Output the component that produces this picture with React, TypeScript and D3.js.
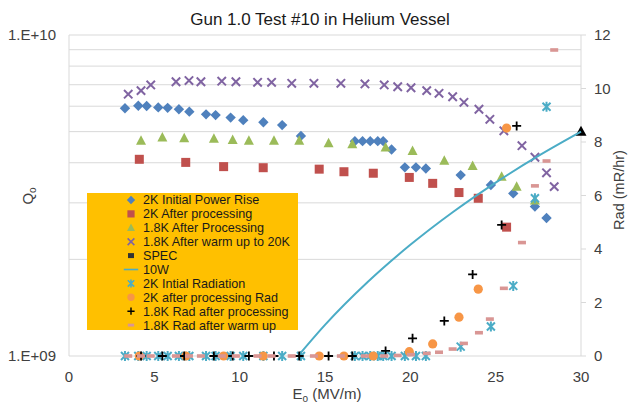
import React from "react";
import * as d3 from "d3";

// ---------- data ----------
const title = "Gun 1.0 Test #10 in Helium Vessel";
const xTicks = [0, 5, 10, 15, 20, 25, 30];
const qTickLabels = ["1.E+09", "1.E+10"];
const radTicks = [0, 2, 4, 6, 8, 10, 12];

// 2K Initial Power Rise (Q) & 2K Initial Radiation (Rad)
const e2kInit = [3.28, 4.06, 4.55, 5.23, 5.78, 6.44, 7.05, 8.03, 8.59, 9.47, 10.21, 11.39, 12.49, 13.59, 16.75, 17.2, 17.65, 18.09, 18.41, 18.9, 19.68, 20.33, 20.91, 22.95, 24.72, 26.03, 27.3, 27.98];
const q2kInit = [5.91e9, 6.02e9, 6.01e9, 5.95e9, 5.93e9, 5.87e9, 5.77e9, 5.66e9, 5.63e9, 5.53e9, 5.43e9, 5.35e9, 5.24e9, 4.85e9, 4.67e9, 4.67e9, 4.67e9, 4.67e9, 4.67e9, 4.4e9, 3.87e9, 3.87e9, 3.84e9, 3.66e9, 3.41e9, 3.21e9, 2.92e9, 2.69e9];
const rad2kInit = [0, 0, 0, 0, 0, 0, 0, 0, 0, 0, 0, 0, 0, 0, 0, 0, 0, 0, 0, 0, 0, 0, 0, 0.35, 1.1, 2.62, 5.9, 9.32];

// 2K After processing (Q) & 2K after processing Rad
const e2kProc = [4.12, 6.84, 9.06, 11.38, 14.66, 16.11, 17.83, 19.94, 21.31, 22.85, 23.98, 25.64];
const q2kProc = [4.1e9, 4.01e9, 3.89e9, 3.86e9, 3.82e9, 3.75e9, 3.71e9, 3.6e9, 3.45e9, 3.23e9, 3.1e9, 2.52e9];
const rad2kProc = [0, 0, 0, 0, 0, 0, 0, 0.16, 0.45, 1.45, 2.5, 8.52];

// 1.8K After Processing (Q) & 1.8K Rad after processing
const e18Proc = [4.22, 5.47, 6.75, 8.49, 9.59, 10.54, 12.01, 13.49, 15.21, 16.6, 18.55, 20.13, 21.99, 23.65, 25.35, 26.23, 27.3];
const q18Proc = [4.68e9, 4.79e9, 4.77e9, 4.75e9, 4.71e9, 4.68e9, 4.68e9, 4.68e9, 4.6e9, 4.57e9, 4.46e9, 4.35e9, 4.06e9, 3.91e9, 3.62e9, 3.37e9, 3.05e9];
const rad18Proc = [0, 0, 0, 0, 0, 0, 0, 0, 0, 0, 0.19, 0.66, 1.31, 3.05, 4.9, 8.6, null];

// 1.8K After warm up to 20K (Q) & 1.8K Rad after warm up
const e18Warm = [3.47, 4.22, 4.79, 6.27, 7.03, 7.73, 8.95, 9.78, 11.05, 11.87, 13.05, 14.35, 15.93, 17.34, 18.47, 19.26, 20.04, 20.96, 21.68, 22.48, 23.14, 24.02, 24.66, 25.48, 26.54, 27.3, 27.98, 28.43];
const q18Warm = [6.54e9, 6.71e9, 6.99e9, 7.15e9, 7.21e9, 7.15e9, 7.18e9, 7.15e9, 7.12e9, 7.12e9, 7.07e9, 7.07e9, 7.07e9, 7.04e9, 6.99e9, 6.9e9, 6.85e9, 6.71e9, 6.58e9, 6.42e9, 6.17e9, 5.87e9, 5.46e9, 5.03e9, 4.52e9, 4.16e9, 3.72e9, 3.37e9];
const rad18Warm = [0, 0, 0, 0, 0, 0, 0, 0, 0, 0, 0, 0, 0, 0, 0, 0.02, 0.05, 0.1, 0.14, 0.26, 0.47, 0.87, 1.38, 2.53, 4.24, 6.36, 7.29, 11.44];

// SPEC
const eSpec = [30];
const qSpec = [5.0e9];

// 10W
const e10W = [13.42, 15, 17.5, 20, 22.5, 25, 27.5, 30];
const q10W = [1.0e9, 1.25e9, 1.7e9, 2.22e9, 2.81e9, 3.47e9, 4.2e9, 5.0e9];

const legendLabels = [
  "2K Initial Power Rise",
  "2K After processing",
  "1.8K After Processing",
  "1.8K After warm up to 20K",
  "SPEC",
  "10W",
  "2K Intial Radiation",
  "2K after processing Rad",
  "1.8K Rad after processing",
  "1.8K Rad after warm up",
];

// ---------- style ----------
const C = {
  blue: "#4F81BD",
  red: "#C0504D",
  green: "#9BBB59",
  purple: "#8064A2",
  teal: "#4BACC6",
  orange: "#F79646",
  black: "#000000",
  pink: "#D99694",
  grid: "#D9D9D9",
  legend: "#FFC000",
};
const FONT = "'Liberation Sans', Arial, sans-serif";

type Kind = "diamond" | "square" | "triangle" | "x" | "spec" | "line" | "star" | "circle" | "plus" | "dash";

function Marker({ kind, x, y, color }: { kind: Kind; x: number; y: number; color: string }) {
  switch (kind) {
    case "diamond":
      return <path d={`M${x},${y - 5.2}L${x + 5.2},${y}L${x},${y + 5.2}L${x - 5.2},${y}Z`} fill={color} />;
    case "square":
      return <rect x={x - 4.5} y={y - 4.5} width={9} height={9} fill={color} />;
    case "triangle":
      return <path d={`M${x},${y - 5.5}L${x + 5},${y + 4}L${x - 5},${y + 4}Z`} fill={color} />;
    case "spec":
      return <path d={`M${x},${y - 6}L${x + 5.5},${y + 4}L${x - 5.5},${y + 4}Z`} fill={color} />;
    case "x":
      return (
        <path d={`M${x - 4.2},${y - 4.2}L${x + 4.2},${y + 4.2}M${x - 4.2},${y + 4.2}L${x + 4.2},${y - 4.2}`} stroke={color} strokeWidth={2} />
      );
    case "star":
      return (
        <path
          d={`M${x - 4},${y - 4}L${x + 4},${y + 4}M${x - 4},${y + 4}L${x + 4},${y - 4}M${x},${y - 5}L${x},${y + 5}`}
          stroke={color}
          strokeWidth={2}
        />
      );
    case "circle":
      return <circle cx={x} cy={y} r={4.6} fill={color} />;
    case "plus":
      return <path d={`M${x - 4.5},${y}L${x + 4.5},${y}M${x},${y - 4.5}L${x},${y + 4.5}`} stroke={color} strokeWidth={1.8} />;
    case "dash":
      return <rect x={x - 4} y={y - 1.8} width={8} height={3.6} fill={color} />;
    case "line":
      return <line x1={x - 9} x2={x + 9} y1={y} y2={y} stroke={color} strokeWidth={2} />;
  }
  return null;
}

export default function App() {
  const W = 630;
  const H = 405;
  const x = d3.scaleLinear().domain([0, 30]).range([69, 581]);
  const yQ = d3.scaleLog().domain([1e9, 1e10]).range([356, 35]);
  const yR = d3.scaleLinear().domain([0, 12]).range([356, 35]);

  const gridQ = d3.range(2, 11).map((m) => m * 1e9);

  const qSeries: { e: number[]; v: number[]; kind: Kind; color: string }[] = [
    { e: e2kInit, v: q2kInit, kind: "diamond", color: C.blue },
    { e: e2kProc, v: q2kProc, kind: "square", color: C.red },
    { e: e18Proc, v: q18Proc, kind: "triangle", color: C.green },
    { e: e18Warm, v: q18Warm, kind: "x", color: C.purple },
  ];
  const radSeries: { e: number[]; v: (number | null)[]; kind: Kind; color: string }[] = [
    { e: e2kInit, v: rad2kInit, kind: "star", color: C.teal },
    { e: e2kProc, v: rad2kProc, kind: "circle", color: C.orange },
    { e: e18Proc, v: rad18Proc, kind: "plus", color: C.black },
    { e: e18Warm, v: rad18Warm, kind: "dash", color: C.pink },
  ];

  const line10W = d3
    .line<number>()
    .x((_, i) => x(e10W[i]))
    .y((d) => yQ(d))
    .curve(d3.curveMonotoneX)(q10W);

  const legendKinds: { kind: Kind; color: string }[] = [
    { kind: "diamond", color: C.blue },
    { kind: "square", color: C.red },
    { kind: "triangle", color: C.green },
    { kind: "x", color: C.purple },
    { kind: "square", color: "#333" },
    { kind: "line", color: C.teal },
    { kind: "star", color: C.teal },
    { kind: "circle", color: C.orange },
    { kind: "plus", color: C.black },
    { kind: "dash", color: C.pink },
  ];

  return (
    <svg width={W} height={H} style={{ position: "absolute", left: 0, top: 0, background: "#fff" }} fontFamily={FONT}>
      <rect x={0} y={0} width={W} height={H} fill="#fff" />
      {/* gridlines */}
      {gridQ.map((g) => (
        <line key={g} x1={x(0)} x2={x(30)} y1={yQ(g)} y2={yQ(g)} stroke={C.grid} strokeWidth={1} />
      ))}
      {/* axes */}
      <line x1={x(0)} x2={x(0)} y1={yQ(1e10)} y2={yQ(1e9)} stroke={C.grid} />
      <line x1={x(0)} x2={x(30)} y1={yQ(1e9)} y2={yQ(1e9)} stroke={C.grid} />
      <line x1={x(30)} x2={x(30)} y1={yR(12)} y2={yR(0)} stroke={C.grid} />
      {radTicks.map((t) => (
        <line key={t} x1={x(30)} x2={x(30) + 5} y1={yR(t)} y2={yR(t)} stroke={C.grid} />
      ))}
      {/* tick labels */}
      {xTicks.map((t) => (
        <text key={t} x={x(t)} y={382} fontSize={15} textAnchor="middle" fill="#404040">
          {t}
        </text>
      ))}
      {qTickLabels.map((t, i) => (
        <text key={t} x={56} y={(i === 0 ? yQ(1e9) : yQ(1e10)) + 5} fontSize={15} textAnchor="end" fill="#404040">
          {t}
        </text>
      ))}
      {radTicks.map((t) => (
        <text key={t} x={594} y={yR(t) + 5} fontSize={15} textAnchor="start" fill="#404040">
          {t}
        </text>
      ))}
      {/* title & axis titles */}
      <text x={320} y={25} fontSize={17} textAnchor="middle" fill="#1a1a1a">
        {title}
      </text>
      <text transform="translate(33,196) rotate(-90)" fontSize={15} textAnchor="middle" fill="#404040">
        Q<tspan fontSize={10} dy={3}>o</tspan>
      </text>
      <text transform="translate(624,190) rotate(-90)" fontSize={14.5} textAnchor="middle" fill="#404040">
        Rad (mR/hr)
      </text>
      <text x={327} y={399} fontSize={15} textAnchor="middle" fill="#404040">
        E<tspan fontSize={10} dy={3}>o</tspan>
        <tspan dy={-3}> (MV/m)</tspan>
      </text>

      {/* Q series */}
      {qSeries.map((s, si) =>
        s.e.map((e, i) => <Marker key={`q${si}-${i}`} kind={s.kind} x={x(e)} y={yQ(s.v[i])} color={s.color} />)
      )}
      {eSpec.map((e, i) => (
        <Marker key={`spec${i}`} kind="spec" x={x(e)} y={yQ(qSpec[i])} color={C.black} />
      ))}
      <path d={line10W ?? ""} fill="none" stroke={C.teal} strokeWidth={2} />

      {/* Rad series */}
      {radSeries.map((s, si) =>
        s.e.map((e, i) =>
          s.v[i] == null ? null : (
            <Marker key={`r${si}-${i}`} kind={s.kind} x={x(e)} y={yR(s.v[i] as number)} color={s.color} />
          )
        )
      )}

      {/* legend */}
      <rect x={87} y={193} width={211} height={137} fill={C.legend} />
      {legendLabels.map((l, i) => {
        const cy = 200 + i * 13.9;
        const k = legendKinds[i];
        return (
          <g key={l}>
            {k.kind === "square" && i === 4 ? (
              <rect x={128} y={cy - 2.5} width={6} height={5} fill="#333" />
            ) : (
              <g transform={`translate(${131},${cy}) scale(0.8) translate(${-131},${-cy})`}>
                <Marker kind={k.kind} x={131} y={cy} color={k.color} />
              </g>
            )}
            <text x={143} y={cy + 4.4} fontSize={12.6} fill="#1a1a1a">
              {l}
            </text>
          </g>
        );
      })}
    </svg>
  );
}
